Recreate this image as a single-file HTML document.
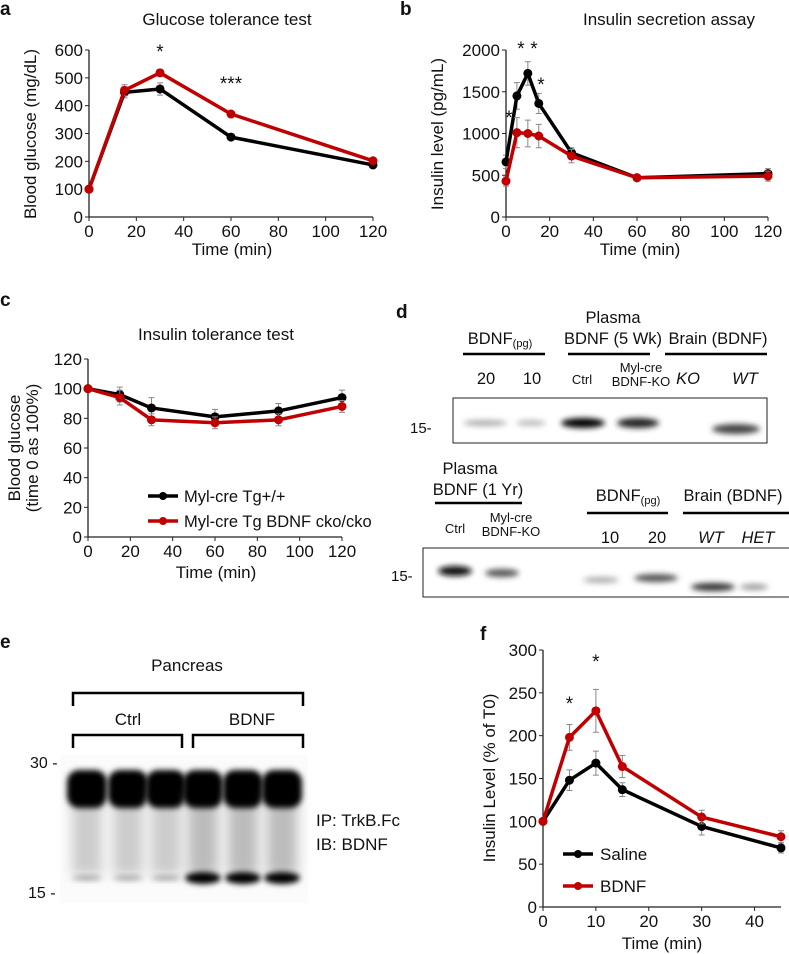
<!DOCTYPE html>
<html><head><meta charset="utf-8"><style>
body{margin:0;background:#fff}
svg{display:block;font-family:"Liberation Sans",Arial,sans-serif}
</style></head><body>
<svg id="fig" width="789" height="954" viewBox="0 0 789 954">
<defs>
<filter id="bl" x="-50%" y="-100%" width="200%" height="300%"><feGaussianBlur stdDeviation="3"/></filter>
<filter id="bl2" x="-50%" y="-100%" width="200%" height="300%"><feGaussianBlur stdDeviation="6"/></filter>
</defs>
<g id="root"></g>
</svg>
<script>
// Panel a data
const aX=[0,15,30,60,120];
const aBlack=[100,448,460,287,187];
const aRed=[100,455,518,370,202];
const aBlackErr=[5,20,22,8,8];
const aRedErr=[5,20,12,10,8];
const aXTicks=[0,20,40,60,80,100,120];
const aYTicks=[0,100,200,300,400,500,600];
// Panel b data
const bX=[0,5,10,15,30,60,120];
const bBlack=[660,1450,1720,1360,770,470,520];
const bRed=[430,1010,1000,970,730,470,490];
const bBlackErr=[80,160,140,120,60,30,60];
const bRedErr=[60,180,160,140,80,30,60];
const bXTicks=[0,20,40,60,80,100,120];
const bYTicks=[0,500,1000,1500,2000];
// Panel c data
const cX=[0,15,30,60,90,120];
const cBlack=[100,96,87,81,85,94];
const cRed=[100,94,79,77,79,88];
const cBlackErr=[1,5,7,5,5,5];
const cRedErr=[1,5,4,4,4,4];
const cXTicks=[0,20,40,60,80,100,120];
const cYTicks=[0,20,40,60,80,100,120];
// Panel f data
const fX=[0,5,10,15,30,45];
const fSaline=[100,148,168,137,94,69];
const fBdnf=[100,198,229,164,105,82];
const fSalineErr=[3,12,14,8,10,6];
const fBdnfErr=[3,15,25,13,8,7];
const fXTicks=[0,10,20,30,40];
const fYTicks=[0,50,100,150,200,250,300];

const NS="http://www.w3.org/2000/svg";
const root=document.getElementById('root');
function el(tag,attrs,parent,txt){const e=document.createElementNS(NS,tag);for(const k in attrs)e.setAttribute(k,attrs[k]);if(txt!==undefined)e.textContent=txt;(parent||root).appendChild(e);return e;}
function txt(x,y,s,size,name,extra){const a=Object.assign({x:x,y:y,'font-size':size||14,fill:'#111'},extra||{});const t=el('text',a,null,s);return t;}

function chart(p){
  const g=el('g',{});
  
  
  const sx=v=>p.x0+(v-p.xmin)/(p.xmax-p.xmin)*(p.x1-p.x0);
  const sy=v=>p.y0-(v-p.ymin)/(p.ymax-p.ymin)*(p.y0-p.y1);
  const ax=el('path',{d:`M${p.x0},${p.y1}V${p.y0}H${p.axEnd||p.x1}`,stroke:'#222','stroke-width':1.3,fill:'none'},g);
  
  
  p.xt.forEach(v=>{const X=sx(v);el('line',{x1:X,x2:X,y1:p.y0,y2:p.y0+4,stroke:'#222'},g);
    const t=el('text',{x:X,y:p.y0+20,'text-anchor':'middle','font-size':17,fill:'#111'},g,v);
    
    });
  p.yt.forEach(v=>{const Y=sy(v);el('line',{x1:p.x0-4,x2:p.x0,y1:Y,y2:Y,stroke:'#222'},g);
    const t=el('text',{x:p.x0-6,y:Y+6,'text-anchor':'end','font-size':17,fill:'#111'},g,v);
    
    });
  p.series.forEach(s=>{
    const sg=el('g',{},g);
    
    
    s.y.forEach((v,i)=>{const X=sx(p.xs[i]);const e=s.err[i];
      el('path',{d:`M${X},${sy(v-e)}V${sy(v+e)}M${X-3},${sy(v-e)}h6M${X-3},${sy(v+e)}h6`,stroke:'#888','stroke-width':1},sg);});
    el('polyline',{points:s.y.map((v,i)=>sx(p.xs[i])+','+sy(v)).join(' '),fill:'none',stroke:s.c,'stroke-width':3.5,'stroke-linejoin':'round'},sg);
    s.y.forEach((v,i)=>{const c=el('circle',{cx:sx(p.xs[i]),cy:sy(v),r:4.5,fill:s.c},sg);
      
      });
  });
  return {sx,sy};
}
const BLK='#000',RED='#c00000';

// a
txt(0,15,'a',19,'panel-label-a',{'font-weight':'bold'});
txt(227,25,'Glucose tolerance test',17,'chart-title-a',{'text-anchor':'middle'});
const A=chart({name:'chart-a',x0:89,x1:373,y0:217,y1:50,xmin:0,xmax:120,ymin:0,ymax:600,xs:aX,xt:aXTicks,yt:aYTicks,
 series:[{name:'series-black',y:aBlack,err:aBlackErr,c:BLK},{name:'series-red',y:aRed,err:aRedErr,c:RED}]});
txt(232,255,'Time (min)',17,'x-axis-title-a',{'text-anchor':'middle'});
txt(0,0,'Blood glucose (mg/dL)',17,'y-axis-title-a',{'text-anchor':'middle',transform:'translate(36,134) rotate(-90)'});
txt(A.sx(30),58,'*',19,'sig-star',{'text-anchor':'middle'});
txt(A.sx(60),90,'***',19,'sig-star',{'text-anchor':'middle'});

// b
txt(400,15,'b',19,'panel-label-b',{'font-weight':'bold'});
txt(669,25,'Insulin secretion assay',17,'chart-title-b',{'text-anchor':'middle'});
const B=chart({name:'chart-b',x0:506,x1:768,y0:217,y1:50,xmin:0,xmax:120,ymin:0,ymax:2000,xs:bX,xt:bXTicks,yt:bYTicks,
 series:[{name:'series-black',y:bBlack,err:bBlackErr,c:BLK},{name:'series-red',y:bRed,err:bRedErr,c:RED}]});
txt(640,255,'Time (min)',17,'x-axis-title-b',{'text-anchor':'middle'});
txt(0,0,'Insulin level (pg/mL)',17,'y-axis-title-b',{'text-anchor':'middle',transform:'translate(443,134) rotate(-90)'});
txt(509,124,'*',19,'sig-star',{'text-anchor':'middle'});
txt(521,55,'*',19,'sig-star',{'text-anchor':'middle'});
txt(534,55,'*',19,'sig-star',{'text-anchor':'middle'});
txt(541,91,'*',19,'sig-star',{'text-anchor':'middle'});

// c
txt(0,306,'c',19,'panel-label-c',{'font-weight':'bold'});
txt(216,340,'Insulin tolerance test',17,'chart-title-c',{'text-anchor':'middle'});
const C=chart({name:'chart-c',x0:88,x1:342,y0:537,y1:359,xmin:0,xmax:120,ymin:0,ymax:120,xs:cX,xt:cXTicks,yt:cYTicks,
 series:[{name:'series-black',y:cBlack,err:cBlackErr,c:BLK},{name:'series-red',y:cRed,err:cRedErr,c:RED}]});
txt(216,578,'Time (min)',17,'x-axis-title-c',{'text-anchor':'middle'});
txt(0,0,'Blood glucose',17,'y-axis-title-c',{'text-anchor':'middle',transform:'translate(20,448) rotate(-90)'});
txt(0,0,'(time 0 as 100%)',17,'y-axis-title-c-2',{'text-anchor':'middle',transform:'translate(38,448) rotate(-90)'});
[[BLK,496,'Myl-cre Tg+/+'],[RED,521,'Myl-cre Tg BDNF cko/cko']].forEach(l=>{
 const g=el('g',{});
 el('line',{x1:148,x2:178,y1:l[1],y2:l[1],stroke:l[0],'stroke-width':3.5},g);el('circle',{cx:163,cy:l[1],r:4,fill:l[0]},g);
 el('text',{x:184,y:l[1]+6,'font-size':16.5,fill:'#111'},g,l[2]);});

// f
txt(480,640,'f',19,'panel-label-f',{'font-weight':'bold'});
const F=chart({name:'chart-f',x0:543,x1:781,axEnd:781,y0:907,y1:650,xmin:0,xmax:45,ymin:0,ymax:300,xs:fX,xt:fXTicks,yt:fYTicks,
 series:[{name:'series-saline',y:fSaline,err:fSalineErr,c:BLK},{name:'series-bdnf',y:fBdnf,err:fBdnfErr,c:RED}]});
txt(662,949,'Time (min)',17,'x-axis-title-f',{'text-anchor':'middle'});
txt(0,0,'Insulin Level (% of T0)',17,'y-axis-title-f',{'text-anchor':'middle',transform:'translate(495,778) rotate(-90)'});
txt(F.sx(5),710,'*',19,'sig-star',{'text-anchor':'middle'});
txt(F.sx(10),668,'*',19,'sig-star',{'text-anchor':'middle'});
[[BLK,854,'Saline'],[RED,886,'BDNF']].forEach(l=>{
 const g=el('g',{});
 el('line',{x1:563,x2:593,y1:l[1],y2:l[1],stroke:l[0],'stroke-width':3.5},g);el('circle',{cx:578,cy:l[1],r:4,fill:l[0]},g);
 el('text',{x:600,y:l[1]+6,'font-size':17,fill:'#111'},g,l[2]);});

// d blots
txt(396,318,'d',19,'panel-label-d',{'font-weight':'bold'});
function hdr(cx,y,s,name,it){return txt(cx,y,s,16.5,name,Object.assign({'text-anchor':'middle'},it?{'font-style':'italic'}:{}));}
function bar(x1,x2,y){const l=el('line',{x1:x1,x2:x2,y1:y,y2:y,stroke:'#000','stroke-width':2.5});}
const t1=hdr(500,344,'BDNF','label-bdnf-pg');el('tspan',{'font-size':11,dy:3},t1,'(pg)');
hdr(613,323,'Plasma','label-plasma');hdr(613,344,'BDNF (5 Wk)','label-5wk');hdr(718,344,'Brain (BDNF)','label-brain');
bar(463,545,354);bar(568,650,354);bar(665,767,354);
hdr(486,384,'20','lane-20');hdr(532,384,'10','lane-10');
txt(582,384,'Ctrl',13,'lane-ctrl',{'text-anchor':'middle'});txt(641,372,'Myl-cre',13,'lane-mylcre',{'text-anchor':'middle'});txt(641,386,'BDNF-KO',13,'lane-ko',{'text-anchor':'middle'});
hdr(688,384,'KO','lane-ko-brain',true);hdr(745,384,'WT','lane-wt',true);
el('rect',{x:453,y:398,width:314,height:45,fill:'#fff',stroke:'#222','stroke-width':1});
[[485,423,22,3,'#aaa'],[531,423,15,3,'#bbb'],[583,423,22,5,'#000'],[638,423,21,5,'#222'],[736,429,24,5,'#444']].forEach(b=>{
 const e=el('ellipse',{cx:b[0],cy:b[1],rx:b[2],ry:b[3],fill:b[4],filter:'url(#bl)'});});
txt(410,433,'15-',15,'mw-marker-15');
hdr(470,474,'Plasma','label-plasma-2');hdr(478,495,'BDNF (1 Yr)','label-1yr');bar(435,522,503);
const t2=hdr(628,501,'BDNF','label-bdnf-pg-2');el('tspan',{'font-size':11,dy:3},t2,'(pg)');
hdr(733,501,'Brain (BDNF)','label-brain-2');bar(587,668,513);bar(683,789,513);
txt(455,533,'Ctrl',13,'lane-ctrl-2',{'text-anchor':'middle'});txt(511,522,'Myl-cre',13,'lane-mylcre-2',{'text-anchor':'middle'});txt(511,536,'BDNF-KO',13,'lane-ko-2',{'text-anchor':'middle'});
hdr(610,543,'10','lane-10-2');hdr(657,543,'20','lane-20-2');hdr(711,543,'WT','lane-wt-2',true);hdr(758,543,'HET','lane-het',true);
el('rect',{x:423,y:548,width:370,height:49,fill:'#fff',stroke:'#222','stroke-width':1});
[[455,571,17,5,'#111'],[502,573,17,4,'#555'],[601,580,18,3,'#aaa'],[656,578,22,4,'#555'],[713,587,22,4,'#333'],[754,587,14,3,'#999']].forEach(b=>{
 const e=el('ellipse',{cx:b[0],cy:b[1],rx:b[2],ry:b[3],fill:b[4],filter:'url(#bl)'});});
txt(391,581,'15-',15,'mw-marker-15-2');

// e
txt(0,648,'e',19,'panel-label-e',{'font-weight':'bold'});
txt(187,671,'Pancreas',17,'label-pancreas',{'text-anchor':'middle'});
el('path',{d:'M73,706V693H303V706',stroke:'#000','stroke-width':2.5,fill:'none'});
txt(128,725,'Ctrl',17,'label-ctrl',{'text-anchor':'middle'});txt(252,725,'BDNF',17,'label-bdnf',{'text-anchor':'middle'});
el('path',{d:'M73,748V735H182V748M193,748V735H303V748',stroke:'#000','stroke-width':2.5,fill:'none'});
const eb=el('g',{});
el('rect',{x:60,y:755,width:248,height:148,fill:'#fbfbfb'},eb);
[87,128,166,203,243,282].forEach((x,i)=>{
 el('rect',{x:x-15,y:795,width:30,height:80,fill:i<3?'#ccc':'#bbb',filter:'url(#bl2)'},eb);
 el('rect',{x:x-20,y:770,width:40,height:38,rx:12,fill:'#000',filter:'url(#bl)'},eb);
 el('ellipse',{cx:x,cy:878,rx:i<3?15:18,ry:i<3?2:6,fill:i<3?'#999':'#000',filter:'url(#bl)'},eb);});
txt(30,768,'30 -',16,'mw-marker-30');txt(28,898,'15 -',16,'mw-marker-15-e');
txt(316,826,'IP: TrkB.Fc',17,'label-ip');txt(316,850,'IB: BDNF',17,'label-ib');
</script>
</body></html>
